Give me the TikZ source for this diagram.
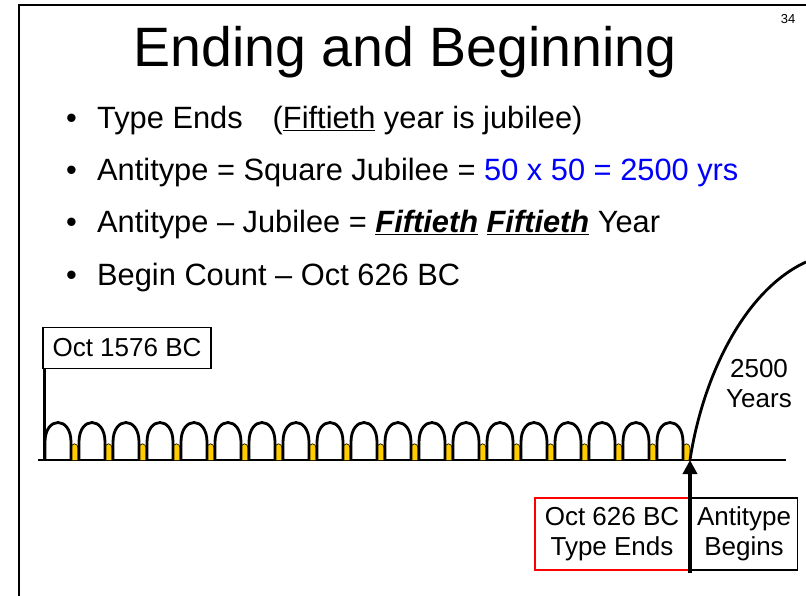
\documentclass[tikz,border=0pt]{standalone}
\usepackage{fontspec}
\setmainfont{Liberation Sans}
\usepackage{xcolor}
\usetikzlibrary{positioning,arrows.meta}
\definecolor{jubgold}{RGB}{255,204,0}
\definecolor{slideblue}{RGB}{0,0,255}

\begin{document}
\begin{tikzpicture}[x=1pt,y=-1pt,
            bullet/.style = {anchor=base west,inner sep=0pt,
                        font=\fontsize{30.8}{36}\selectfont},
            datebox/.style = {draw,line width=1.5pt,align=center,
                        inner sep=0pt,font=\fontsize{26}{30}\selectfont},
            arch/.style = {line width=2.8pt},
            bump/.style = {fill=jubgold,draw=black,line width=0.6pt}]
            \useasboundingbox (0,0) rectangle (806,596);
            % Slide frame
            \draw[line width=2pt] (19,596) -- (19,5) -- (806,5);
            \node[font=\fontsize{13}{15}\selectfont] (page) at (788,19) {34};
            % Title
            \node[anchor=base,inner sep=0pt,font=\fontsize{55.5}{60}\selectfont]
                (title) at (405,67) {Ending and Beginning};
            % Bullet lines
            \node[bullet] (typeends) at (66,129)
                {\makebox[31pt][l]{\textbullet}Type Ends\hspace{30pt}(\underline{Fiftieth} year is jubilee)};
            \node[bullet] (square) at (66,181)
                {\makebox[31pt][l]{\textbullet}Antitype = Square Jubilee = \textcolor{slideblue}{50 x 50 = 2500 yrs}};
            \node[bullet] (fiftieth) at (66,233)
                {\makebox[31pt][l]{\textbullet}Antitype -- Jubilee = \textbf{\textit{\underline{Fiftieth}}} \textbf{\textit{\underline{Fiftieth}}} Year};
            \node[bullet] (count) at (66,285)
                {\makebox[31pt][l]{\textbullet}Begin Count -- Oct 626 BC};
            % Time line
            \coordinate (origin) at (44,460);
            \coordinate (typeend) at (690,460);
            \draw[line width=2.5pt] (38,460) -- (typeend) -- (786,460);
            % Jubilee cycles
            \foreach \i in {0,...,18} {
                \pgfmathsetmacro{\xa}{44+34*\i}
                \draw[bump] ({\xa+27},460) -- ({\xa+27},449)
                    .. controls ({\xa+27},442) and ({\xa+34},442) .. ({\xa+34},449)
                    -- ({\xa+34},460);
                \draw[arch] ({\xa+1},460) -- ({\xa+1},442)
                    .. controls ({\xa+1},416) and ({\xa+27},416) .. ({\xa+27},442)
                    -- ({\xa+27},460);
            }
            % Antitype curve
            \draw[arch] (typeend) .. controls (703,375) and (745,290) .. (806,262);
            \node[align=center,font=\fontsize{26}{30}\selectfont] (years) at (759,384) {2500\\Years};
            % Start date
            \node[datebox,minimum width=168pt,minimum height=41pt] (startbox) at (127,348) {Oct 1576 BC};
            \draw[line width=3pt] (origin |- startbox.south) -- (origin);
            % Type ends / antitype begins
            \node[datebox,draw=red,minimum width=154pt,minimum height=72pt] (endbox) at (612,534) {Oct 626 BC\\Type Ends};
            \node[datebox,minimum width=107pt,minimum height=72pt,right=0pt of endbox] (antibox) {Antitype\\Begins};
            \coordinate (foot) at (690,573);
            \draw[line width=4pt,-{Triangle[width=14pt,length=14pt]}] (foot) -- (typeend);
        \end{tikzpicture}
\end{document}
